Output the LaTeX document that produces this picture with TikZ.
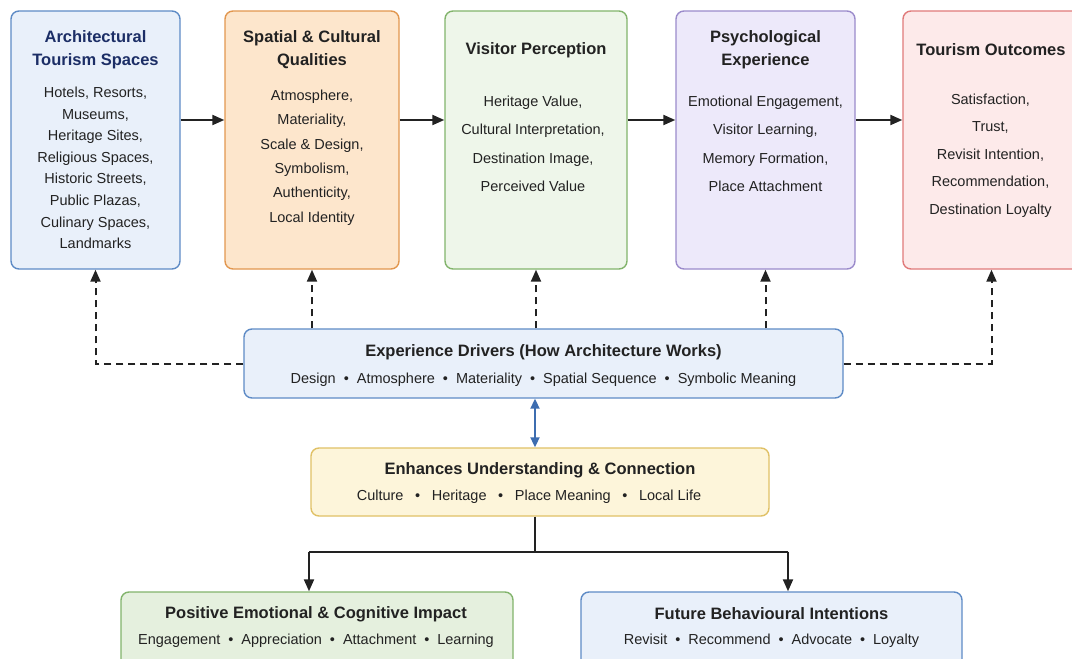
\documentclass[tikz,border=0pt]{standalone}
\usepackage{fontspec}
\setmainfont{Liberation Sans}
\usepackage{tikz}
\usetikzlibrary{arrows.meta,positioning}

\definecolor{azulfill}{HTML}{E9F0FA}
\definecolor{azuldraw}{HTML}{5E8BC6}
\definecolor{azultit}{HTML}{1C2E66}
\definecolor{narfill}{HTML}{FDE6CC}
\definecolor{nardraw}{HTML}{E2974F}
\definecolor{verfill}{HTML}{EEF6EA}
\definecolor{verdraw}{HTML}{82B46C}
\definecolor{lilfill}{HTML}{EDE9FA}
\definecolor{lildraw}{HTML}{9B8BCB}
\definecolor{rosfill}{HTML}{FDEAEA}
\definecolor{rosdraw}{HTML}{E07A7A}
\definecolor{amafill}{HTML}{FDF5DA}
\definecolor{amadraw}{HTML}{E0C166}
\definecolor{verfill2}{HTML}{E5F0DE}
\definecolor{azulflecha}{HTML}{3D6DB0}
\definecolor{texto}{HTML}{222222}

\newcommand{\pto}{\hspace{0.55em}\textbullet\hspace{0.55em}}

\begin{document}
\begin{tikzpicture}[x=1pt,y=-1pt]
 \tikzset{box node/.style={rectangle, draw, rounded corners=8pt,
 		line width=1.4pt, inner sep=0pt}, }
 \tikzset{title node/.style={align=center, text=texto,
 		font=\bfseries\fontsize{16.5}{23}\selectfont}, }
 \tikzset{body node/.style={align=center, text=texto}, }
 \tikzset{linea/.style={-{Triangle[length=12pt,width=10pt]}, line width=2pt, texto}, }
 \tikzset{rayas/.style={linea, dash pattern=on 7pt off 5pt}, }
 \useasboundingbox[fill=white] (0,0) rectangle (1072,659);
 % fila superior
 \node[box node, fill=azulfill, draw=azuldraw, minimum width=169pt, minimum height=258pt] (1) at (95.5,140) {};
 \node[box node, fill=narfill, draw=nardraw, minimum width=174pt, minimum height=258pt] (2) at (312,140) {};
 \node[box node, fill=verfill, draw=verdraw, minimum width=182pt, minimum height=258pt] (3) at (536,140) {};
 \node[box node, fill=lilfill, draw=lildraw, minimum width=179pt, minimum height=258pt] (4) at (765.5,140) {};
 \node[box node, fill=rosfill, draw=rosdraw, minimum width=177pt, minimum height=258pt] (5) at (991.5,140) {};
 \node[title node, text=azultit] (t1) at (95.5,50) {Architectural\\Tourism Spaces};
 \node[title node] (t2) at (312,50) {Spatial \& Cultural\\Qualities};
 \node[title node] (t3) at (536,50) {Visitor Perception};
 \node[title node] (t4) at (765.5,50) {Psychological\\Experience};
 \node[title node] (t5) at (991,50) {Tourism Outcomes};
 \node[body node, font=\fontsize{14.5}{21.6}\selectfont] (c1) at (95.5,168) {Hotels, Resorts,\\Museums,\\Heritage Sites,\\Religious Spaces,\\Historic Streets,\\Public Plazas,\\Culinary Spaces,\\Landmarks};
 \node[body node, font=\fontsize{14.5}{24.4}\selectfont] (c2) at (312,157.5) {Atmosphere,\\Materiality,\\Scale \& Design,\\Symbolism,\\Authenticity,\\Local Identity};
 \node[body node, font=\fontsize{14.5}{28.4}\selectfont] (c3) at (533,144) {Heritage Value,\\Cultural Interpretation,\\Destination Image,\\Perceived Value};
 \node[body node, font=\fontsize{14.5}{28.4}\selectfont] (c4) at (765.5,144) {Emotional Engagement,\\Visitor Learning,\\Memory Formation,\\Place Attachment};
 \node[body node, font=\fontsize{14.5}{27.5}\selectfont] (c5) at (990.5,155.5) {Satisfaction,\\Trust,\\Revisit Intention,\\Recommendation,\\Destination Loyalty};
 \foreach \x /\y in{1/2,2/3,3/4,4/5}
 \path[linea] ([yshift=20pt]\x.east) edge node {} ([yshift=20pt]\y.west);
 % impulsores
 \node[box node, fill=azulfill, draw=azuldraw, minimum width=599pt, minimum height=69pt] (drv) at (543.5,363.5) {};
 \node[title node] (tdrv) at (543.5,352) {Experience Drivers (How Architecture Works)};
 \node[body node, font=\fontsize{14.5}{18}\selectfont] (cdrv) at (543.5,380) {Design\pto Atmosphere\pto Materiality\pto Spatial Sequence\pto Symbolic Meaning};
 \foreach \y in{2,3,4}
 \draw[rayas] (drv.north -| \y.south) -- (\y.south);
 \draw[rayas] (drv.west) -| (1.south);
 \draw[rayas] (drv.east) -| (5.south);
 % comprension
 \node[box node, fill=amafill, draw=amadraw, minimum width=458pt, minimum height=68pt] (enh) at (540,482) {};
 \node[title node] (tenh) at (540,470) {Enhances Understanding \& Connection};
 \node[body node, font=\fontsize{14.5}{18}\selectfont] (cenh) at (529,497) {Culture\hspace{0.8em}\textbullet\hspace{0.8em}Heritage\hspace{0.8em}\textbullet\hspace{0.8em}Place Meaning\hspace{0.8em}\textbullet\hspace{0.8em}Local Life};
 \coordinate (eje) at (535,551.5);
 \draw[azulflecha, line width=2pt, {Triangle[length=10pt,width=9pt]}-{Triangle[length=10pt,width=9pt]}] (drv.south -| eje) -- (enh.north -| eje);
 % resultados
 \node[box node, fill=verfill2, draw=verdraw, minimum width=392pt, minimum height=80pt] (imp) at (317,632) {};
 \node[box node, fill=azulfill, draw=azuldraw, minimum width=381pt, minimum height=80pt] (fut) at (771.5,632) {};
 \node[title node] (timp) at (316,614) {Positive Emotional \& Cognitive Impact};
 \node[body node, font=\fontsize{14.5}{18}\selectfont] (cimp) at (316,641) {Engagement\pto Appreciation\pto Attachment\pto Learning};
 \node[title node] (tfut) at (771.5,614) {Future Behavioural Intentions};
 \node[body node, font=\fontsize{14.5}{18}\selectfont] (cfut) at (771.5,641) {Revisit\pto Recommend\pto Advocate\pto Loyalty};
 \coordinate (izq) at (309,551.5);
 \coordinate (der) at (788,551.5);
 \draw[line width=2pt, texto] (enh.south -| eje) -- (eje);
 \draw[line width=2pt, texto, line join=round] (izq) -- (der);
 \draw[linea] (izq) -- (imp.north -| izq);
 \draw[linea] (der) -- (fut.north -| der);
 %
\end{tikzpicture}
\end{document}
